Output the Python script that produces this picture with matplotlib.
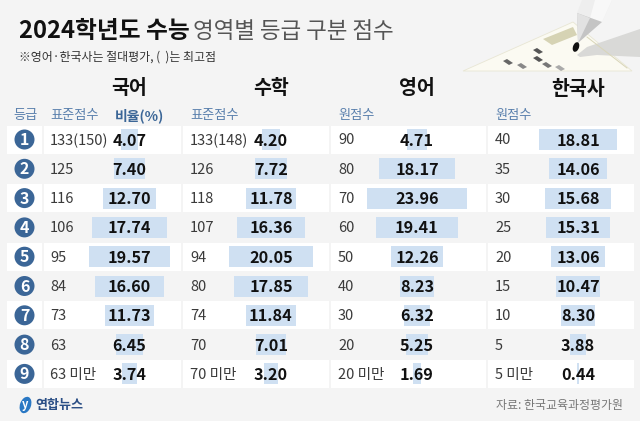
import matplotlib
matplotlib.use('Agg')
import numpy as np
import matplotlib.pyplot as plt
from matplotlib.patches import Polygon, Circle, Ellipse

plt.rcParams['font.family'] = ['Noto Sans CJK KR', 'DejaVu Sans']

grades = ['1', '2', '3', '4', '5', '6', '7', '8', '9']
kor_score = ['133(150)', '125', '116', '106', '95', '84', '73', '63', '63 미만']
kor_pct = [4.07, 7.40, 12.70, 17.74, 19.57, 16.60, 11.73, 6.45, 3.74]
math_score = ['133(148)', '126', '118', '107', '94', '80', '74', '70', '70 미만']
math_pct = [4.20, 7.72, 11.78, 16.36, 20.05, 17.85, 11.84, 7.01, 3.20]
eng_score = ['90', '80', '70', '60', '50', '40', '30', '20', '20 미만']
eng_pct = [4.71, 18.17, 23.96, 19.41, 12.26, 8.23, 6.32, 5.25, 1.69]
hist_score = ['40', '35', '30', '25', '20', '15', '10', '5', '5 미만']
hist_pct = [18.81, 14.06, 15.68, 15.31, 13.06, 10.47, 8.30, 3.88, 0.44]

BLUE = '#3b6697'
HEAD = '#5a80ad'
BAR = '#cfe0f2'
BG = '#f4f4f4'
TXT = '#111111'

fig = plt.figure(figsize=(6.4, 4.21), dpi=100, facecolor=BG)
ax = fig.add_axes([0, 0, 1, 1])
ax.set_xlim(0, 640)
ax.set_ylim(421, 0)
ax.axis('off')

y = 139.5 + 29.3 * np.arange(9)
bar_scale = 4.18

# paper + pencil at top right
ax.add_patch(Polygon([[463, 71], [573, 22], [632, 71]], fc='#fbfaf2', ec='#e8e6d4', lw=0.6))
ax.add_patch(Polygon([[543, 39], [573, 27], [577, 35], [552, 45]], fc='#d6d3b4', ec='none'))
ax.plot([587, 627], [37, 68], color='#d8d5b8', lw=0.7)
marks = [(538, 51, '#555555'), (538, 59, '#555555'), (508, 62, '#666666'),
         (522, 66, '#888888'), (547, 65, '#777777'), (560, 68, '#aaaaaa')]
for mx, my, mc in marks:
    ax.add_patch(Polygon([[mx - 5, my - 1], [mx - 1, my - 3], [mx + 5, my + 1], [mx + 1, my + 3]], fc=mc, ec='none'))
ax.add_patch(Polygon([[577, 55], [587, 47], [640, 29], [640, 57], [597, 55], [580, 57]], fc='#d9d9d7', ec='none'))
ax.add_patch(Polygon([[582, 0], [612, 0], [602, 22], [577, 13]], fc='#eeeeee', ec='none'))
ax.add_patch(Polygon([[595, 0], [612, 0], [602, 22], [590, 18]], fc='#f8f8f8', ec='none'))
ax.add_patch(Polygon([[577, 13], [602, 22], [578, 43]], fc='#c4c4c4', ec='none'))
ax.add_patch(Polygon([[577, 13], [590, 18], [578, 43]], fc='#e2e2e2', ec='none'))
ax.add_patch(Ellipse((576, 47), 6, 10, angle=20, fc='#111111', ec='none'))

# row cells
cols = [(7, 42), (44, 181), (183, 329), (331, 486), (488, 634)]
for i, yy in enumerate(y):
    fc = 'white' if i % 2 == 0 else BG
    for x0, x1 in cols:
        ax.barh(yy, x1 - x0, left=x0, height=28, color=fc, zorder=1)

# bars and values
subjects = [
    ('국어', 129.5, 50, kor_score, kor_pct),
    ('수학', 271, 190, math_score, math_pct),
    ('영어', 417, 338, eng_score, eng_pct),
    ('한국사', 578, 495, hist_score, hist_pct),
]
for name, cx, sx, scores, pcts in subjects:
    widths = np.array(pcts) * bar_scale
    ax.barh(y, widths, left=cx - widths / 2, height=21, color=BAR, zorder=2)
    for yy, s, p in zip(y, scores, pcts):
        ax.text(sx, yy + 1, s, fontsize=10.5, color='#3a3a3a', va='center', ha='left', zorder=3)
        ax.text(cx, yy + 1, f'{p:.2f}', fontsize=11.7, fontweight='bold', color=TXT, va='center', ha='center', zorder=3)
    ax.text(cx, 89, name, fontsize=14, fontweight='bold', color=TXT, va='center', ha='center')

# grade circles
for yy, g in zip(y, grades):
    ax.add_patch(Circle((24.5, yy), 10, fc=BLUE, ec='none', zorder=3))
    ax.text(24.5, yy + 0.5, g, fontsize=11.5, fontweight='bold', color='white', va='center', ha='center', zorder=4)

# sub headers
ax.text(25, 116, '등급', fontsize=9.5, color=HEAD, va='center', ha='center')
ax.text(50, 116, '표준점수', fontsize=9.5, color=HEAD, va='center', ha='left')
ax.text(115, 116, '비율(%)', fontsize=10, fontweight='bold', color=BLUE, va='center', ha='left')
ax.text(190, 116, '표준점수', fontsize=9.5, color=HEAD, va='center', ha='left')
ax.text(338, 116, '원점수', fontsize=9.5, color=HEAD, va='center', ha='left')
ax.text(495, 116, '원점수', fontsize=9.5, color=HEAD, va='center', ha='left')

# titles
ax.text(19, 31, '2024학년도 수능', fontsize=17.1, fontweight='bold', color='#111111', va='center', ha='left')
ax.text(193, 31, '영역별 등급 구분 점수', fontsize=16.2, color='#555555', va='center', ha='left')
ax.text(19, 57.5, '※영어·한국사는 절대평가, (  )는 최고점', fontsize=8.6, color='#333333', va='center', ha='left')

# footer
ax.add_patch(Ellipse((25.5, 405), 11, 17, angle=20, fc='#2a78c4', ec='none'))
ax.text(25.5, 404.5, 'y', fontsize=8, fontweight='bold', style='italic', color='white', va='center', ha='center')
ax.text(35, 405, '연합뉴스', fontsize=9.4, fontweight='bold', color='#2b4f86', va='center', ha='left')
ax.text(623, 405, '자료: 한국교육과정평가원', fontsize=8.6, color='#777777', va='center', ha='right')

fig.savefig('out.png', dpi=100, facecolor=BG)
